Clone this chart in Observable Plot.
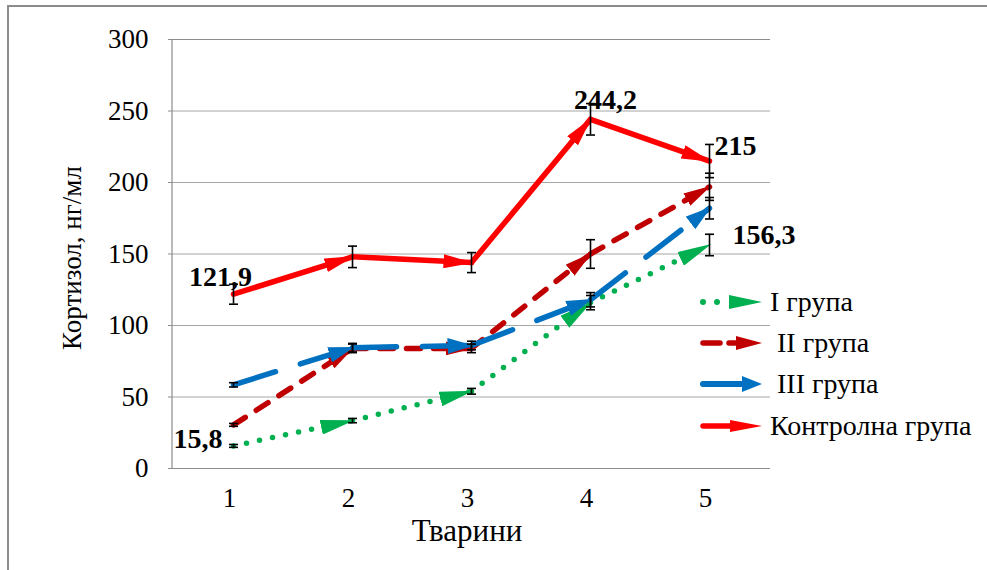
<!DOCTYPE html>
<html><head>
<style>
html,body{margin:0;padding:0;background:#fff;}
#wrap{position:relative;width:987px;height:570px;overflow:hidden;font-family:'Liberation Serif','Times New Roman','DejaVu Serif',serif;}
#border{position:absolute;left:7px;top:5px;right:-10px;bottom:-10px;border-left:2px solid #8c8c8c;border-top:2px solid #8c8c8c;}
#chart{position:absolute;left:0;top:0;}
#legend{position:absolute;left:698px;top:281px;}
.row{display:flex;align-items:center;height:41.3px;white-space:pre;color:#000;font-size:28px;}
.row svg{display:block;margin-right:6px;}
.t{position:absolute;color:#000;white-space:nowrap;line-height:1;}
#xt{left:467px;top:530px;font-size:31px;transform:translate(-50%,-50%);}
#yt{left:72px;top:258px;font-size:27px;transform:translate(-50%,-50%) rotate(-90deg);}
</style></head><body>
<div id="wrap"><div id="border"></div><div id="chart"></div>
<div class="t" id="xt">Тварини</div>
<div class="t" id="yt">Кортизол, нг/мл</div>
<div id="legend">
<div class="row"><svg width="66" height="20"><circle cx="5" cy="10" r="3" fill="#00B050"/><circle cx="19" cy="10" r="3" fill="#00B050"/><path d="M31,3L64,10L31,17Z" fill="#00B050"/></svg><span>I група</span></div>
<div class="row"><svg width="66" height="20"><line x1="5" y1="10" x2="22" y2="10" stroke="#C00000" stroke-width="5.5" stroke-linecap="round"/><line x1="31" y1="10" x2="45" y2="10" stroke="#C00000" stroke-width="5.5" stroke-linecap="round"/><path d="M38,3L64,10L38,17Z" fill="#C00000"/></svg><span> II група</span></div>
<div class="row"><svg width="66" height="20"><line x1="5" y1="10" x2="48" y2="10" stroke="#0070C0" stroke-width="6" stroke-linecap="round"/><path d="M44,2L64,10L44,18Z" fill="#0070C0"/></svg><span> III група</span></div>
<div class="row"><svg width="66" height="20"><line x1="5" y1="10" x2="40" y2="10" stroke="#FF0000" stroke-width="5.5" stroke-linecap="round"/><path d="M32,4L64,10L32,16Z" fill="#FF0000"/></svg><span>Контролна група</span></div>
</div>
</div>
<script src="https://cdn.jsdelivr.net/npm/d3@7"></script>
<script src="https://cdn.jsdelivr.net/npm/@observablehq/plot@0.6"></script>
<script>
// ---- data ----
const animals = [1, 2, 3, 4, 5];
const yTicks = [0, 50, 100, 150, 200, 250, 300];
const seriesNames = ["I група", " II група", " III група", "Контролна група"];
const groupI   = [15.8, 33.5, 54, 116, 156.3];
const groupII  = [30.5, 84, 84, 150, 197];
const groupIII = [58.5, 84.5, 86, 118, 182];
const control  = [121.9, 148, 144, 244.2, 215];
const errI   = [1, 1.5, 2, 5, 7.5];
const errII  = [1, 3, 3, 10, 9.5];
const errIII = [1.5, 3, 3, 5, 7.5];
const errControl = [7, 7.5, 7, 11, 11.6];

// ---- styles ----
const colors = ["#00B050", "#C00000", "#0070C0", "#FF0000"];
const dashes = ["0 13.3", "14 13", "44 26", null];
const heads = {"#00b050": [32, 15], "#c00000": [26, 14], "#0070c0": [24, 16], "#ff0000": [28, 14]};
const FONT = "'Liberation Serif', 'Times New Roman', serif";

const allSeries = [groupI, groupII, groupIII, control];
const allErr = [errI, errII, errIII, errControl];

function segments(vals) {
  const out = [];
  for (let i = 0; i < vals.length - 1; i++) out.push({x1: animals[i], y1: vals[i], x2: animals[i + 1], y2: vals[i + 1]});
  return out;
}
const errRows = [];
allSeries.forEach((s, k) => s.forEach((v, i) => errRows.push({x: animals[i], lo: v - allErr[k][i], hi: v + allErr[k][i]})));
const capSymbol = {draw(ctx, size) { const r = Math.sqrt(size / Math.PI); ctx.moveTo(-r, 0); ctx.lineTo(r, 0); }};
const fmt = v => String(v).replace(".", ",");

const lineMarks = allSeries.map((s, k) => Plot.link(segments(s), {
  x1: "x1", y1: "y1", x2: "x2", y2: "y2",
  stroke: colors[k], strokeWidth: 5.5, strokeLinecap: "round",
  strokeDasharray: dashes[k] || undefined, markerEnd: "arrow"
}));

const lbl = (vals, i, opts) => Plot.text([{x: animals[i], y: vals[i]}], {
  x: "x", y: "y", text: d => fmt(d.y), fontWeight: "bold", fontSize: 28, fill: "#000", ...opts
});

const chart = Plot.plot({
  width: 987, height: 570,
  marginLeft: 172, marginRight: 217, marginTop: 39, marginBottom: 102,
  x: {type: "point", domain: animals, padding: 0.5},
  y: {domain: [0, 300]},
  style: {fontFamily: FONT, fontSize: "27px", color: "#000", background: "transparent"},
  marks: [
    Plot.gridY(yTicks, {stroke: "#a6a6a6", strokeOpacity: 1, strokeWidth: 1}),
    Plot.ruleY([0, 300], {stroke: "#8c8c8c", strokeWidth: 1.2}),
    Plot.axisY({ticks: yTicks, tickSize: 4, tickPadding: 20, label: null, stroke: "#8c8c8c"}),
    Plot.axisX({tickSize: 0, tickPadding: 19, label: null, dx: -4}),
    ...lineMarks,
    Plot.ruleX(errRows, {x: "x", y1: "lo", y2: "hi", stroke: "#000", strokeWidth: 1.6}),
    Plot.dot(errRows, {x: "x", y: "lo", symbol: capSymbol, r: 4.5, stroke: "#000", strokeWidth: 1.6, fill: "none"}),
    Plot.dot(errRows, {x: "x", y: "hi", symbol: capSymbol, r: 4.5, stroke: "#000", strokeWidth: 1.6, fill: "none"}),
    lbl(control, 0, {textAnchor: "middle", dx: -13, dy: -17}),
    lbl(groupI, 0, {textAnchor: "end", dx: -11, dy: -7}),
    lbl(control, 3, {textAnchor: "middle", dx: 15, dy: -19}),
    lbl(control, 4, {textAnchor: "start", dx: 5, dy: -15}),
    lbl(groupI, 4, {textAnchor: "start", dx: 23, dy: -10})
  ]
});

// filled Excel-like arrowheads
chart.querySelectorAll("marker").forEach(m => {
  const c = (m.getAttribute("stroke") || "").toLowerCase();
  const [L, W] = heads[c] || [26, 14];
  m.setAttribute("viewBox", `${-L} ${-W / 2} ${L + 3} ${W}`);
  m.setAttribute("markerWidth", L + 3);
  m.setAttribute("markerHeight", W);
  m.setAttribute("markerUnits", "userSpaceOnUse");
  m.setAttribute("refX", 0); m.setAttribute("refY", 0);
  m.setAttribute("stroke", "none");
  m.setAttribute("fill", c);
  m.innerHTML = `<path d="M${-L},${-W / 2}L2,0L${-L},${W / 2}Z" fill="${c}" stroke="none"/>`;
});
// left border of plot area
const ys = chart.scale("y").range;
d3.select(chart).append("line")
  .attr("x1", 172).attr("x2", 172).attr("y1", Math.min(...ys)).attr("y2", Math.max(...ys))
  .attr("stroke", "#8c8c8c").attr("stroke-width", 1.2);
document.getElementById("chart").appendChild(chart);
</script>
</body></html>
